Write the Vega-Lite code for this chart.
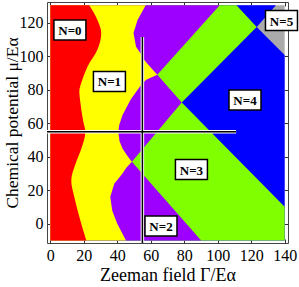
{
 "$schema": "https://vega.github.io/schema/vega-lite/v6.json",
 "width": 241, "height": 241,
 "autosize": {"type": "none"},
 "padding": {"left": 47, "top": 2, "right": 11, "bottom": 44},
 "background": "white",
 "config": {
  "view": {"stroke": "#444", "strokeWidth": 1},
  "axis": {"labelFont": "Liberation Serif", "labelFontSize": 16, "labelColor": "black", "titleFont": "Liberation Serif", "titleFontSize": 18, "titleFontWeight": "normal", "titleColor": "black", "tickSize": -4, "tickColor": "#333", "domain": false, "grid": false, "labelPadding": 8}
 },
 "datasets": {
  "phases": [
   {"phase": "N5", "mu": -10, "gamma": 140}, {"phase": "N5", "mu": 130.5, "gamma": 140},
   {"phase": "N4", "mu": -10, "gamma": 140}, {"phase": "N4", "mu": 100.9, "gamma": 140}, {"phase": "N4", "mu": 117.6, "gamma": 123.3}, {"phase": "N4", "mu": 130.5, "gamma": 134.8},
   {"phase": "N3", "mu": -10, "gamma": 140}, {"phase": "N3", "mu": 10.1, "gamma": 140}, {"phase": "N3", "mu": 72.5, "gamma": 78.5}, {"phase": "N3", "mu": 117.6, "gamma": 123.3}, {"phase": "N3", "mu": 130.5, "gamma": 111.2},
   {"phase": "N2", "mu": -10, "gamma": 90.1}, {"phase": "N2", "mu": 37, "gamma": 48.7}, {"phase": "N2", "mu": 72.5, "gamma": 78.5}, {"phase": "N2", "mu": 89, "gamma": 63.9}, {"phase": "N2", "mu": 130.5, "gamma": 101.2},
   {"phase": "N1", "mu": -10, "gamma": 45.2}, {"phase": "N1", "mu": 0, "gamma": 40.0}, {"phase": "N1", "mu": 7.8, "gamma": 37.0}, {"phase": "N1", "mu": 16.1, "gamma": 35.8}, {"phase": "N1", "mu": 23.9, "gamma": 38.2}, {"phase": "N1", "mu": 29.9, "gamma": 43.0}, {"phase": "N1", "mu": 33.4, "gamma": 45.4}, {"phase": "N1", "mu": 37, "gamma": 48.7}, {"phase": "N1", "mu": 40.6, "gamma": 46.0}, {"phase": "N1", "mu": 44.8, "gamma": 43.2}, {"phase": "N1", "mu": 49.5, "gamma": 41.3}, {"phase": "N1", "mu": 54.9, "gamma": 40.6}, {"phase": "N1", "mu": 59.1, "gamma": 41.2}, {"phase": "N1", "mu": 65.1, "gamma": 43.2}, {"phase": "N1", "mu": 74.6, "gamma": 48.2}, {"phase": "N1", "mu": 83.0, "gamma": 54.3}, {"phase": "N1", "mu": 86.0, "gamma": 57.3}, {"phase": "N1", "mu": 89.0, "gamma": 63.9}, {"phase": "N1", "mu": 93.7, "gamma": 59.7}, {"phase": "N1", "mu": 97.9, "gamma": 56.1}, {"phase": "N1", "mu": 100.9, "gamma": 54.6}, {"phase": "N1", "mu": 105.7, "gamma": 51.2}, {"phase": "N1", "mu": 114.0, "gamma": 49.7}, {"phase": "N1", "mu": 121.8, "gamma": 52.1}, {"phase": "N1", "mu": 130.5, "gamma": 57.0},
   {"phase": "N0", "mu": -10, "gamma": 21.5}, {"phase": "N0", "mu": 4.2, "gamma": 17.3}, {"phase": "N0", "mu": 16.1, "gamma": 14.3}, {"phase": "N0", "mu": 25.7, "gamma": 12.5}, {"phase": "N0", "mu": 37, "gamma": 15.5}, {"phase": "N0", "mu": 44.8, "gamma": 18.5}, {"phase": "N0", "mu": 54.9, "gamma": 20.9}, {"phase": "N0", "mu": 60.9, "gamma": 19.7}, {"phase": "N0", "mu": 72.8, "gamma": 17.9}, {"phase": "N0", "mu": 78.8, "gamma": 17.3}, {"phase": "N0", "mu": 86, "gamma": 19.1}, {"phase": "N0", "mu": 93.7, "gamma": 22.1}, {"phase": "N0", "mu": 103.9, "gamma": 28.1}, {"phase": "N0", "mu": 114, "gamma": 30.4}, {"phase": "N0", "mu": 121.8, "gamma": 28.1}, {"phase": "N0", "mu": 130.5, "gamma": 23.3}
  ],
  "lines": [
   {"x": 55, "x2": 55, "y": -11.5, "y2": 111.6},
   {"x": -2, "x2": 111, "y": 55, "y2": 55}
  ],
  "labels": [
   {"label": "N=0", "x": 11.7, "y": 115.8},
   {"label": "N=1", "x": 35.3, "y": 85.0},
   {"label": "N=2", "x": 66.1, "y": -1.3},
   {"label": "N=3", "x": 84.3, "y": 32.4},
   {"label": "N=4", "x": 116.3, "y": 73.9},
   {"label": "N=5", "x": 138.1, "y": 121.4}
  ]
 },
 "layer": [
  {"data": {"name": "phases"}, "transform": [{"filter": "datum.phase === 'N5'"}],
   "mark": {"type": "area", "orient": "horizontal", "color": "#ABABAB"},
   "encoding": {
    "y": {"field": "mu", "type": "quantitative", "scale": {"domain": [-11.5, 132.5], "nice": false, "zero": false}, "axis": {"orient": "left", "values": [0, 20, 40, 60, 80, 100, 120], "title": "Chemical potential  μ/Eα", "titlePadding": -2, "titleFontSize": 17.5}},
    "x": {"field": "gamma", "type": "quantitative", "scale": {"domain": [-2, 142], "nice": false, "zero": false}, "axis": {"orient": "bottom", "values": [0, 20, 40, 60, 80, 100, 120, 140], "title": "Zeeman field  Γ/Eα", "titlePadding": 3}},
    "x2": {"datum": 0}}},
  {"data": {"name": "phases"}, "transform": [{"filter": "datum.phase === 'N4'"}],
   "mark": {"type": "area", "orient": "horizontal", "color": "#0000FF"},
   "encoding": {
    "y": {"field": "mu", "type": "quantitative", "scale": {"domain": [-11.5, 132.5], "nice": false, "zero": false}, "axis": {"orient": "right", "values": [0, 20, 40, 60, 80, 100, 120], "labels": false, "title": null}},
    "x": {"field": "gamma", "type": "quantitative", "scale": {"domain": [-2, 142], "nice": false, "zero": false}, "axis": {"orient": "top", "values": [0, 20, 40, 60, 80, 100, 120, 140], "labels": false, "title": null}},
    "x2": {"datum": 0}}},
  {"data": {"name": "phases"}, "transform": [{"filter": "datum.phase === 'N3'"}],
   "mark": {"type": "area", "orient": "horizontal", "color": "#7FFF00"},
   "encoding": {
    "y": {"field": "mu", "type": "quantitative", "scale": {"domain": [-11.5, 132.5], "nice": false, "zero": false}, "axis": null},
    "x": {"field": "gamma", "type": "quantitative", "scale": {"domain": [-2, 142], "nice": false, "zero": false}, "axis": null},
    "x2": {"datum": 0}}},
  {"data": {"name": "phases"}, "transform": [{"filter": "datum.phase === 'N2'"}],
   "mark": {"type": "area", "orient": "horizontal", "color": "#9D00FF"},
   "encoding": {
    "y": {"field": "mu", "type": "quantitative", "scale": {"domain": [-11.5, 132.5], "nice": false, "zero": false}, "axis": null},
    "x": {"field": "gamma", "type": "quantitative", "scale": {"domain": [-2, 142], "nice": false, "zero": false}, "axis": null},
    "x2": {"datum": 0}}},
  {"data": {"name": "phases"}, "transform": [{"filter": "datum.phase === 'N1'"}],
   "mark": {"type": "area", "orient": "horizontal", "color": "#FFFF00"},
   "encoding": {
    "y": {"field": "mu", "type": "quantitative", "scale": {"domain": [-11.5, 132.5], "nice": false, "zero": false}, "axis": null},
    "x": {"field": "gamma", "type": "quantitative", "scale": {"domain": [-2, 142], "nice": false, "zero": false}, "axis": null},
    "x2": {"datum": 0}}},
  {"data": {"name": "phases"}, "transform": [{"filter": "datum.phase === 'N0'"}],
   "mark": {"type": "area", "orient": "horizontal", "color": "#FF0000", "interpolate": "monotone"},
   "encoding": {
    "y": {"field": "mu", "type": "quantitative", "scale": {"domain": [-11.5, 132.5], "nice": false, "zero": false}, "axis": null},
    "x": {"field": "gamma", "type": "quantitative", "scale": {"domain": [-2, 142], "nice": false, "zero": false}, "axis": null},
    "x2": {"datum": 0}}},
  {"data": {"name": "lines"},
   "mark": {"type": "rule", "color": "white", "strokeWidth": 3.5},
   "encoding": {
    "x": {"field": "x", "type": "quantitative", "scale": {"domain": [-2, 142], "nice": false, "zero": false}, "axis": null},
    "x2": {"field": "x2"},
    "y": {"field": "y", "type": "quantitative", "scale": {"domain": [-11.5, 132.5], "nice": false, "zero": false}, "axis": null},
    "y2": {"field": "y2"}}},
  {"data": {"name": "lines"},
   "mark": {"type": "rule", "color": "black", "strokeWidth": 1.5},
   "encoding": {
    "x": {"field": "x", "type": "quantitative", "scale": {"domain": [-2, 142], "nice": false, "zero": false}, "axis": null},
    "x2": {"field": "x2"},
    "y": {"field": "y", "type": "quantitative", "scale": {"domain": [-11.5, 132.5], "nice": false, "zero": false}, "axis": null},
    "y2": {"field": "y2"}}},
  {"data": {"name": "labels"},
   "mark": {"type": "point", "shape": "M-1,-0.625L1,-0.625L1,0.625L-1,0.625Z", "size": 1024, "filled": true, "fill": "white", "stroke": "black", "strokeWidth": 1.5, "opacity": 1, "clip": false},
   "encoding": {
    "x": {"field": "x", "type": "quantitative", "scale": {"domain": [-2, 142], "nice": false, "zero": false}, "axis": null},
    "y": {"field": "y", "type": "quantitative", "scale": {"domain": [-11.5, 132.5], "nice": false, "zero": false}, "axis": null}}},
  {"data": {"name": "labels"},
   "mark": {"type": "text", "font": "Liberation Serif", "fontWeight": "bold", "fontSize": 13, "baseline": "middle", "align": "center", "dy": 1, "color": "black", "clip": false},
   "encoding": {
    "x": {"field": "x", "type": "quantitative", "scale": {"domain": [-2, 142], "nice": false, "zero": false}, "axis": null},
    "y": {"field": "y", "type": "quantitative", "scale": {"domain": [-11.5, 132.5], "nice": false, "zero": false}, "axis": null},
    "text": {"field": "label", "type": "nominal"}}}
 ],
 "resolve": {"axis": {"x": "independent", "y": "independent"}}
}
